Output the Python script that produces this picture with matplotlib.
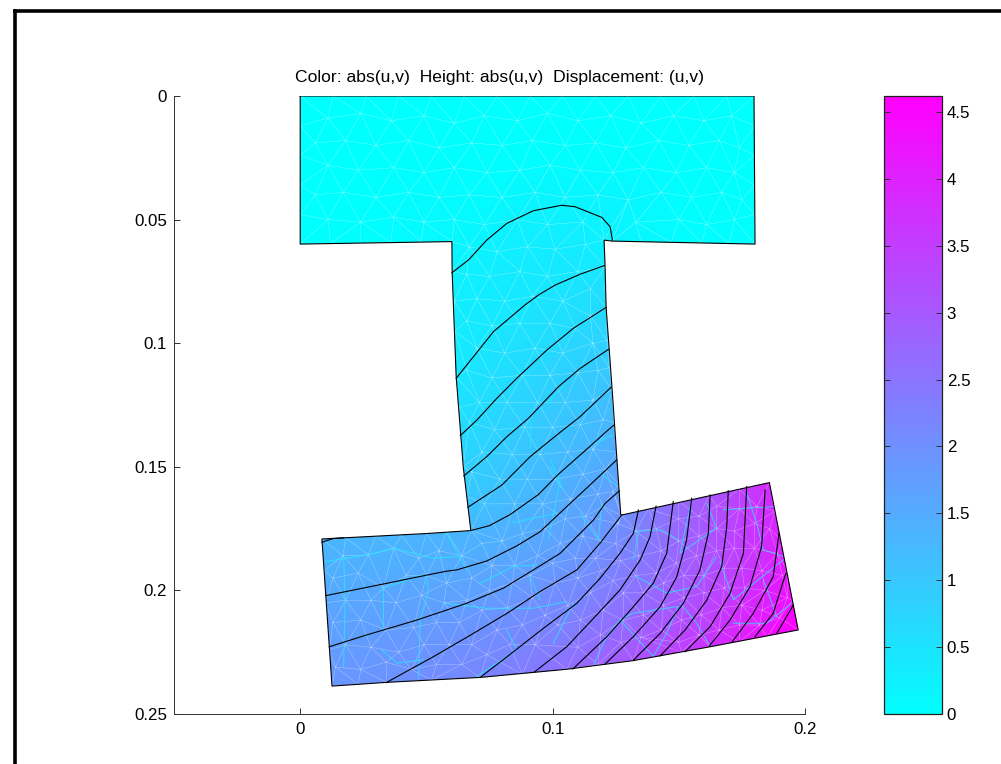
import numpy as np
import matplotlib
matplotlib.use("Agg")
import matplotlib.pyplot as plt
from matplotlib.lines import Line2D
from matplotlib.path import Path
from matplotlib.patches import PathPatch
from matplotlib.tri import Triangulation

plt.rcParams['font.family'] = ['Liberation Sans', 'DejaVu Sans']

title = "Color: abs(u,v)  Height: abs(u,v)  Displacement: (u,v)"
x_ticks = [0, 0.1, 0.2]
x_tick_labels = ["0", "0.1", "0.2"]
y_ticks = [0, 0.05, 0.1, 0.15, 0.2, 0.25]
y_tick_labels = ["0", "0.05", "0.1", "0.15", "0.2", "0.25"]
bar_ticks = [0, 0.5, 1, 1.5, 2, 2.5, 3, 3.5, 4, 4.5]
bar_tick_labels = ["0", "0.5", "1", "1.5", "2", "2.5", "3", "3.5", "4", "4.5"]
value_max = 4.62

outline = [
    (0, 0), (.1798, 0), (.1802, .0599), (.1236, .0587), (.1204, .0583), (.1208, .0692),
    (.1212, .0854), (.1236, .1189), (.1270, .1695), (.1274, .1695), (.1859, .1564),
    (.1973, .2160), (.1624, .2228), (.1320, .2284), (.1056, .2319), (.0713, .2352),
    (.0343, .2372), (.0126, .2387), (.0086, .1792), (.0500, .1770), (.0676, .1758),
    (.0646, .1500), (.0618, .1136), (.0602, .0712), (.0601, .0589), (0, .0599),
]

# one line per contour level, lowest first
contour_1 = [(.0601, .0715), (.0667, .0663), (.0739, .0583), (.0819, .0515), (.0924, .0464),
             (.1036, .0442), (.1089, .0448), (.1195, .0491), (.1228, .0529), (.1237, .0583)]
contour_2 = [(.0618, .1142), (.0686, .1055), (.0766, .0953), (.0891, .0845), (.0944, .0805),
             (.1010, .0765), (.1109, .0721), (.1205, .0686)]
contour_3 = [(.0634, .1374), (.0700, .1311), (.0779, .1223), (.0858, .1142), (.0977, .1028),
             (.1082, .0940), (.1212, .0855)]
contour_4 = [(.0648, .1537), (.0739, .1459), (.0819, .1378), (.0904, .1304), (.1023, .1176),
             (.1109, .1102), (.1221, .1025)]
contour_5 = [(.0664, .1664), (.0799, .1574), (.0911, .1459), (.1017, .1371), (.1109, .1297),
             (.1232, .1178)]
contour_6 = [(.0676, .1758), (.0750, .1738), (.0832, .1693), (.0944, .1612), (.1023, .1530),
             (.1135, .1429), (.1241, .1332)]
contour_7 = [(.0102, .2021), (.0330, .1974), (.0502, .1938), (.0581, .1922), (.0621, .1917),
             (.0739, .1881), (.0858, .1820), (.0950, .1763), (.1056, .1661), (.1135, .1586),
             (.1254, .1472)]
contour_8 = [(.0115, .2228), (.0264, .2180), (.0462, .2120), (.0660, .2052), (.0805, .1991),
             (.0924, .1917), (.1030, .1850), (.1162, .1715), (.1208, .1648), (.1265, .1597)]
contour_9 = [(.0341, .2373), (.0528, .2268), (.0686, .2174), (.0819, .2093), (.0950, .2005),
             (.1096, .1917), (.1188, .1809), (.1274, .1695)]
contour_10 = [(.0713, .2352), (.0845, .2248), (.0964, .2153), (.1096, .2052), (.1188, .1951),
              (.1267, .1850), (.1320, .1769), (.1340, .1675)]
contour_11 = [(.0928, .2330), (.1056, .2228), (.1162, .2113), (.1267, .1998), (.1347, .1877),
              (.1386, .1783), (.1410, .1659)]
contour_12 = [(.1080, .2318), (.1215, .2187), (.1320, .2066), (.1399, .1971), (.1452, .1850),
              (.1478, .1641)]
contour_13 = [(.1208, .2298), (.1320, .2187), (.1426, .2066), (.1492, .1945), (.1531, .1796),
              (.1551, .1627)]
contour_14 = [(.1320, .2282), (.1426, .2174), (.1518, .2052), (.1584, .1917), (.1617, .1769),
              (.1624, .1614)]
contour_15 = [(.1426, .2265), (.1525, .2160), (.1611, .2039), (.1670, .1904), (.1690, .1742),
              (.1696, .1597)]
contour_16 = [(.1525, .2248), (.1624, .2147), (.1703, .2012), (.1756, .1850), (.1769, .1580)]
contour_17 = [(.1621, .2225), (.1703, .2120), (.1782, .1985), (.1828, .1823), (.1842, .1594)]
contour_18 = [(.1710, .2210), (.1795, .2093), (.1874, .1945), (.1897, .1769)]
contour_19 = [(.1802, .2187), (.1874, .2093), (.1924, .1931)]
contour_20 = [(.1888, .2174), (.1954, .2059)]
contours = [contour_1, contour_2, contour_3, contour_4, contour_5, contour_6, contour_7,
            contour_8, contour_9, contour_10, contour_11, contour_12, contour_13, contour_14,
            contour_15, contour_16, contour_17, contour_18, contour_19, contour_20]
corner_contour = [(.0086, .1805), (.0132, .1790), (.0172, .1787)]
level_step = 0.22

# field values away from the contour lines (x, y, value)
extra_field = [
    (0, 0, 0), (.09, 0, 0), (.1798, 0, 0), (.1802, .0599, .03), (.15, .0595, .04), (.1236, .0587, .2),
    (.1204, .0583, .22), (.0601, .0589, .13), (.03, .0595, .02), (0, .0599, 0), (.03, .03, 0),
    (.09, .025, .03), (.15, .03, .01), (.0086, .1792, 1.3), (.04, .1772, 1.32),
    (.0126, .2387, 1.9), (.1859, .1564, 3.85), (.1973, .2160, 4.62), (.1930, .2170, 4.5),
    (.1960, .2100, 4.55), (.1270, .1650, 1.94),
]

# cyan edges that show through in the stressed part
streaks = [
    [(.0099, .1883), (.0271, .1856), (.0370, .1829), (.0528, .1870), (.0634, .1863)],
    [(.0172, .1863), (.0178, .2038), (.0172, .2308)],
    [(.0251, .2186), (.0330, .2159), (.0330, .1991), (.0488, .1937)],
    [(.0502, .1937), (.0508, .2011), (.0475, .2119), (.0469, .2355)],
    [(.0568, .2052), (.0739, .2072), (.0924, .2072), (.1056, .2045)],
    [(.0713, .1971), (.0845, .1903), (.0937, .1897)],
    [(.0323, .2240), (.0383, .2294), (.0488, .2281)],
    [(.0581, .1769), (.0660, .1917)],
    [(.0911, .1944), (.0950, .2038)],
    [(.0818, .2159), (.0858, .2240), (.0700, .2348)],
    [(.0990, .1472), (.1030, .1553), (.0983, .1796)],
    [(.1109, .1688), (.1181, .1796), (.1195, .1647)],
    [(.1003, .2213), (.1082, .2052)],
    [(.1162, .2301), (.1214, .2186), (.1267, .2119), (.1399, .2267)],
    [(.1267, .2119), (.1320, .2092), (.1498, .2065), (.1452, .2173), (.1399, .2267)],
    [(.1340, .1769), (.1320, .1876)],
    [(.1320, .1762), (.1432, .1755), (.1498, .1796)],
    [(.1551, .1634), (.1505, .1849), (.1650, .1748), (.1610, .1647)],
    [(.1676, .1674), (.1874, .1661)],
    [(.1769, .1607), (.1808, .1728), (.1835, .1836), (.1914, .1863)],
    [(.1663, .1883), (.1716, .2038), (.1914, .1876)],
    [(.1505, .2052), (.1571, .2133), (.1624, .2227)],
    [(.1716, .2133), (.1848, .2133), (.1947, .2052)],
    [(.1835, .1957), (.1888, .2106)],
    [(.1333, .1944), (.1452, .2011), (.1571, .1984), (.1650, .1863)],
    [(.0990, .1499), (.1043, .1593)],
    [(.0911, .1418), (.0911, .1310)],
    [(.1043, .1175), (.0977, .1243)],
    [(.1142, .1418), (.1241, .1371)],
    [(.1188, .1526), (.1268, .1586)],
    [(.0832, .1728), (.1017, .1688)],
]

# interior nodes of the mesh
mesh_top = [
    (.011, .009), (.024, .007), (.036, .010), (.049, .008), (.061, .011), (.073, .008), (.086, .010),
    (.098, .007), (.110, .010), (.123, .008), (.135, .011), (.148, .008), (.160, .010), (.171, .008),
    (.006, .019), (.018, .018), (.030, .020), (.043, .018), (.055, .021), (.068, .019), (.080, .020),
    (.092, .018), (.105, .020), (.117, .019), (.129, .021), (.142, .018), (.154, .020), (.166, .018),
    (.174, .021), (.011, .028), (.023, .030), (.037, .029), (.049, .031), (.061, .029), (.074, .031),
    (.087, .030), (.099, .028), (.111, .030), (.124, .031), (.136, .029), (.149, .031), (.161, .029),
    (.172, .031), (.006, .040), (.017, .039), (.030, .041), (.043, .039), (.055, .041), (.067, .040),
    (.080, .041), (.093, .039), (.105, .041), (.118, .040), (.130, .042), (.143, .039), (.155, .041),
    (.167, .039), (.175, .042), (.011, .050), (.024, .051), (.037, .049), (.049, .051), (.061, .050),
    (.073, .052), (.086, .050), (.098, .052), (.112, .051), (.133, .051), (.150, .050), (.161, .052),
    (.172, .050),
]
mesh_stem = [
    (.067, .061), (.078, .063), (.090, .061), (.101, .062), (.113, .060), (.066, .072), (.075, .073),
    (.087, .071), (.098, .073), (.110, .071), (.115, .078), (.070, .082), (.081, .083), (.092, .081),
    (.104, .083), (.115, .089), (.066, .091), (.076, .093), (.087, .092), (.099, .092), (.109, .094),
    (.070, .102), (.081, .104), (.093, .102), (.104, .104), (.116, .100), (.066, .111), (.076, .114),
    (.088, .113), (.099, .113), (.110, .112), (.118, .111), (.071, .124), (.082, .124), (.094, .124),
    (.105, .124), (.116, .123), (.067, .132), (.077, .135), (.089, .134), (.100, .134), (.111, .133),
    (.120, .131), (.072, .144), (.084, .145), (.095, .145), (.106, .144), (.116, .143), (.068, .152),
    (.079, .155), (.090, .155), (.101, .155), (.112, .153), (.121, .151), (.073, .165), (.085, .165),
    (.096, .165), (.107, .163), (.118, .161), (.124, .160),
]
mesh_low = [
    (.017, .186), (.027, .1856), (.037, .183), (.047, .187), (.055, .184), (.064, .186), (.072, .181),
    (.080, .180), (.088, .177), (.097, .175), (.105, .171), (.113, .170), (.120, .166), (.013, .195),
    (.023, .193), (.033, .199), (.042, .194), (.050, .194), (.058, .197), (.068, .195), (.076, .190),
    (.085, .190), (.094, .186), (.103, .181), (.112, .178), (.119, .180), (.126, .173), (.018, .204),
    (.028, .204), (.038, .205), (.048, .202), (.057, .205), (.066, .204), (.075, .200), (.084, .197),
    (.091, .194), (.100, .189), (.109, .187), (.117, .187), (.125, .181), (.133, .176), (.141, .175),
    (.150, .171), (.158, .170), (.165, .166), (.174, .167), (.181, .166), (.013, .213), (.024, .212),
    (.034, .216), (.045, .215), (.054, .213), (.063, .213), (.072, .208), (.082, .207), (.092, .203),
    (.101, .197), (.110, .195), (.119, .192), (.127, .188), (.134, .186), (.143, .184), (.150, .180),
    (.158, .178), (.165, .175), (.172, .176), (.180, .173), (.186, .175), (.018, .222), (.028, .223),
    (.039, .225), (.049, .222), (.059, .222), (.068, .222), (.078, .216), (.088, .214), (.097, .210),
    (.106, .206), (.115, .201), (.124, .196), (.133, .194), (.141, .193), (.149, .189), (.157, .186),
    (.165, .184), (.172, .183), (.180, .183), (.189, .185), (.014, .231), (.024, .232), (.034, .229),
    (.044, .232), (.054, .230), (.064, .230), (.074, .226), (.083, .222), (.093, .222), (.102, .214),
    (.111, .212), (.120, .208), (.128, .201), (.136, .201), (.144, .197), (.152, .194), (.160, .194),
    (.168, .191), (.175, .191), (.183, .192), (.191, .194), (.110, .223), (.119, .218), (.128, .212),
    (.136, .210), (.144, .206), (.152, .203), (.160, .201), (.168, .199), (.176, .199), (.184, .200),
    (.193, .203), (.127, .221), (.135, .219), (.143, .216), (.151, .212), (.159, .210), (.167, .207),
    (.175, .206), (.183, .208), (.190, .211), (.150, .221), (.158, .218), (.166, .216), (.174, .214),
    (.182, .214),
]
# nodes on the boundary
mesh_edge = [
    (.013, 0), (.026, 0), (.039, 0), (.052, 0), (.065, 0), (.078, 0), (.091, 0), (.104, 0), (.117, 0),
    (.130, 0), (.143, 0), (.156, 0), (.169, 0), (0, .012), (0, .024), (0, .036), (0, .048),
    (.180, .012), (.180, .024), (.180, .036), (.180, .048), (.012, .0597), (.024, .0595), (.036, .0592),
    (.048, .0590), (.135, .0590), (.147, .0592), (.159, .0595), (.170, .0597), (.0610, .0830),
    (.0612, .0950), (.0630, .1260), (.0660, .1620), (.1216, .0990), (.1224, .1100), (.1245, .1320),
    (.1255, .1440), (.1262, .1570), (.138, .1670), (.150, .1640), (.162, .1616), (.174, .1590),
    (.188, .1680), (.191, .1800), (.193, .1920), (.195, .2040), (.185, .2190), (.174, .2210),
    (.151, .2250), (.118, .2300), (.088, .2340), (.052, .2362), (.023, .2380), (.0115, .2240),
    (.0100, .2050), (.0095, .1920), (.018, .1787), (.030, .1780), (.040, .1776), (.058, .1765),
]

fig = plt.figure(figsize=(10.01, 7.64), dpi=100)
W, H = 1001.0, 764.0

# thick frame on the top and left of the window
fig.add_artist(Line2D([15 / W, 15 / W], [0, 1 - 10.5 / H], color="black", lw=2.6, solid_capstyle="projecting"))
fig.add_artist(Line2D([15 / W, 1], [1 - 10.5 / H, 1 - 10.5 / H], color="black", lw=2.6, solid_capstyle="projecting"))

ax = fig.add_axes([174 / W, 1 - 714 / H, (805 - 174) / W, (714 - 96) / H])
ax.set_xlim(-0.05, 0.2)
ax.set_ylim(0.25, 0)
ax.set_xticks(x_ticks, x_tick_labels)
ax.set_yticks(y_ticks, y_tick_labels)
ax.tick_params(direction="in", length=4.5, width=0.7, color="#303030", labelsize=12.2)
ax.tick_params(axis="y", pad=5)
ax.tick_params(axis="x", pad=6)
ax.spines["top"].set_visible(False)
ax.spines["right"].set_visible(False)
ax.spines["left"].set_linewidth(0.7)
ax.spines["bottom"].set_linewidth(0.7)
ax.spines["left"].set_color("#303030")
ax.spines["bottom"].set_color("#303030")
fig.text(499.5 / W, 1 - 82 / H, title, fontsize=12.6, ha="center", va="baseline")

# colour field: contour points carry their level
field = [(x, y, (i + 1) * level_step) for i, c in enumerate(contours) for x, y in c]
field += [(x, y, 6 * level_step) for x, y in corner_contour]
field += extra_field
field = np.array(sorted(set(field)))
fx, fy, fv = field[:, 0], field[:, 1], field[:, 2]

shape = Path(np.array(outline + [outline[0]]))


def outside_triangles(tri):
    cx = tri.x[tri.triangles].mean(axis=1)
    cy = tri.y[tri.triangles].mean(axis=1)
    return ~shape.contains_points(np.column_stack([cx, cy]))


clip = PathPatch(shape, transform=ax.transData, facecolor="none", edgecolor="none")
ax.add_patch(clip)

field_tri = Triangulation(fx, fy)
field_tri.set_mask(outside_triangles(field_tri))
shade = ax.tripcolor(field_tri, fv, shading="gouraud", cmap="cool", vmin=0, vmax=value_max)
shade.set_clip_path(clip)

mesh = np.array(mesh_top + mesh_stem + mesh_low + mesh_edge + outline)
mesh_tri = Triangulation(mesh[:, 0], mesh[:, 1])
mesh_tri.set_mask(outside_triangles(mesh_tri))
for artist in ax.triplot(mesh_tri, color="white", lw=0.3, alpha=0.5):
    artist.set_clip_path(clip)

for s in streaks:
    s = np.array(s)
    ln, = ax.plot(s[:, 0], s[:, 1], color="#1ff0ff", lw=0.75, alpha=0.7)
    ln.set_clip_path(clip)

for c in contours + [corner_contour]:
    c = np.array(c)
    ax.plot(c[:, 0], c[:, 1], color="black", lw=0.8)

edge = np.array(outline + [outline[0]])
ax.plot(edge[:, 0], edge[:, 1], color="black", lw=0.8)

ax.set_xlim(-0.05, 0.2)
ax.set_ylim(0.25, 0)

cax = fig.add_axes([884 / W, 1 - 714 / H, (942 - 884) / W, (714 - 96) / H])
cb = fig.colorbar(shade, cax=cax, ticks=bar_ticks)
cb.ax.set_yticklabels(bar_tick_labels)
cb.solids.set_edgecolor("face")
cb.outline.set_linewidth(0.9)
cb.outline.set_edgecolor("#202020")
cax.minorticks_off()
cax.tick_params(direction="in", left=True, right=True, length=4.5, width=0.7, color="#303030",
                labelsize=12.2, pad=3.5)

fig.savefig("out.png", dpi=100)
